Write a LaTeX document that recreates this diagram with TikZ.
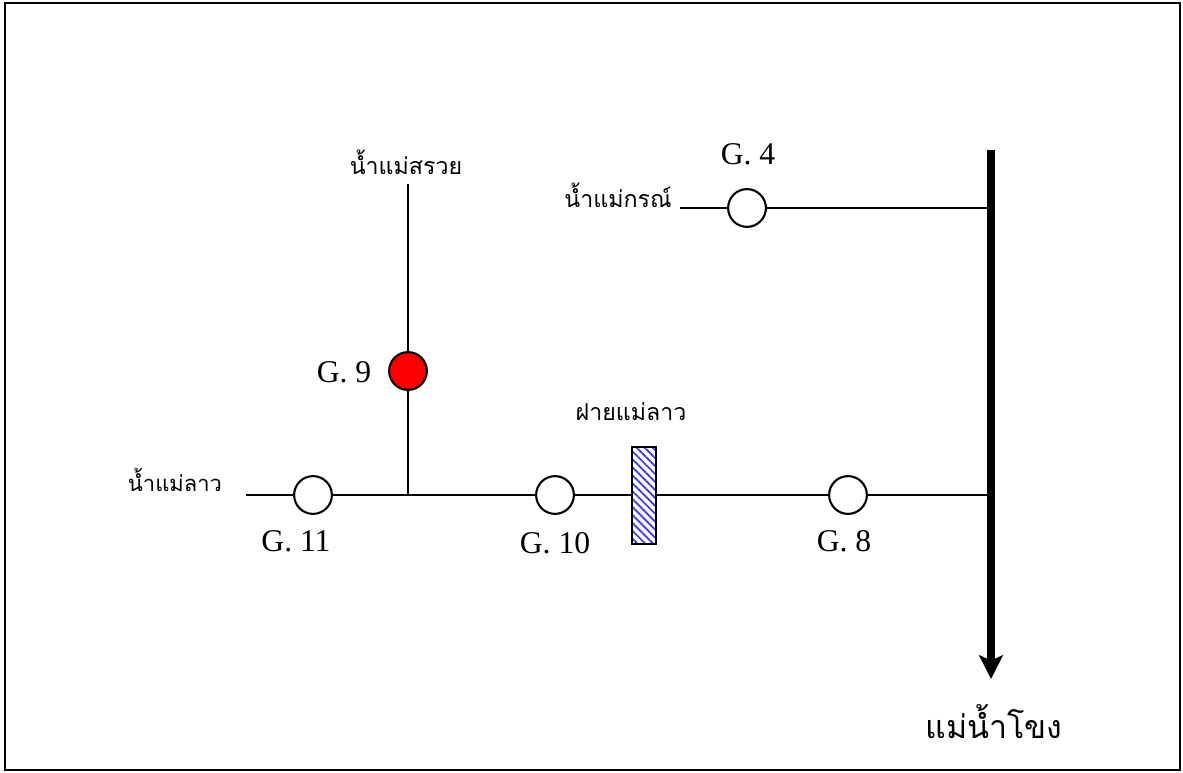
\documentclass[tikz,border=0pt]{standalone}
\usepackage{fontspec}
\setmainfont{Liberation Serif}
\newfontfamily\thaifont[Script=Thai]{Loma}
\usetikzlibrary{arrows.meta,patterns.meta}
\tikzset{
  gauge/.style={draw,circle,line width=1.2pt,fill=white,minimum size=21.5pt,inner sep=0pt},
  river/.style={line width=1.2pt},
  gname/.style={inner sep=0pt,font=\fontsize{18}{18}\selectfont},
  thname/.style={inner sep=0pt,font=\thaifont\fontsize{13.2}{15}\selectfont},
}
\begin{document}
\begin{tikzpicture}[x=.02cm,y=-.02cm]
  \useasboundingbox (0,0) rectangle (1183,773);
  \draw[line width=.9pt] (5,3) rectangle (1180,770);
  % free ends and junctions
  \coordinate (suaytop) at (408,184);
  \coordinate (laostart) at (246,495);
  \coordinate (konstart) at (680,208);
  \coordinate (rivertop) at (991,150);
  \coordinate (riverbot) at (991,679);
  \coordinate (joinkon) at (991,208);
  \coordinate (joinlao) at (991,495);
  \coordinate (joinsuay) at (408,495);
  % gauges
  \node[gauge] (g4) at (747,208) {};
  \node[gauge,fill=red] (g9) at (408,371) {};
  \node[gauge] (g11) at (313,495) {};
  \node[gauge] (g10) at (555,495) {};
  \node[gauge] (g8) at (848,495) {};
  \node[draw,line width=1.2pt,minimum width=13.5pt,minimum height=55pt,inner sep=0pt,
    pattern={Lines[angle=-45,distance=3.2pt,line width=1.1pt]},pattern color=blue!75] (weir) at (644,495.5) {};
  % streams
  \draw[river] (suaytop) -- (g9);
  \draw[river] (g9) -- (joinsuay);
  \draw[river] (laostart) -- (g11);
  \draw[river] (g11) -- (joinsuay) -- (g10);
  \draw[river] (g10) -- (weir.west |- g10);
  \draw[river] (weir.east |- g8) -- (g8);
  \draw[river] (g8) -- (joinlao);
  \draw[river] (konstart) -- (g4);
  \draw[river] (g4) -- (joinkon);
  \draw[line width=5pt,-{Stealth[length=13.5pt,width=13.5pt,inset=3pt]}] (rivertop) -- (riverbot);
  % labels
  \node[gname] (g4t) at (748,154) {G. 4};
  \node[gname] (g9t) at (344,372) {G. 9};
  \node[gname] (g11t) at (296,541) {G. 11};
  \node[gname] (g10t) at (555,543) {G. 10};
  \node[gname] (g8t) at (844,541) {G. 8};
  \node[thname] (suayt) at (406,162) {น้ำแม่สรวย};
  \node[thname] (kont) at (618,195) {น้ำแม่กรณ์};
  \node[thname,font=\thaifont\fontsize{12.5}{15}\selectfont] (laot) at (175,480) {น้ำแม่ลาว};
  \node[thname] (weirt) at (631,412) {ฝายแม่ลาว};
  \node[thname,font=\thaifont\fontsize{18.3}{20}\selectfont] (mekong) at (994,722) {แม่น้ำโขง};
\end{tikzpicture}
\end{document}
